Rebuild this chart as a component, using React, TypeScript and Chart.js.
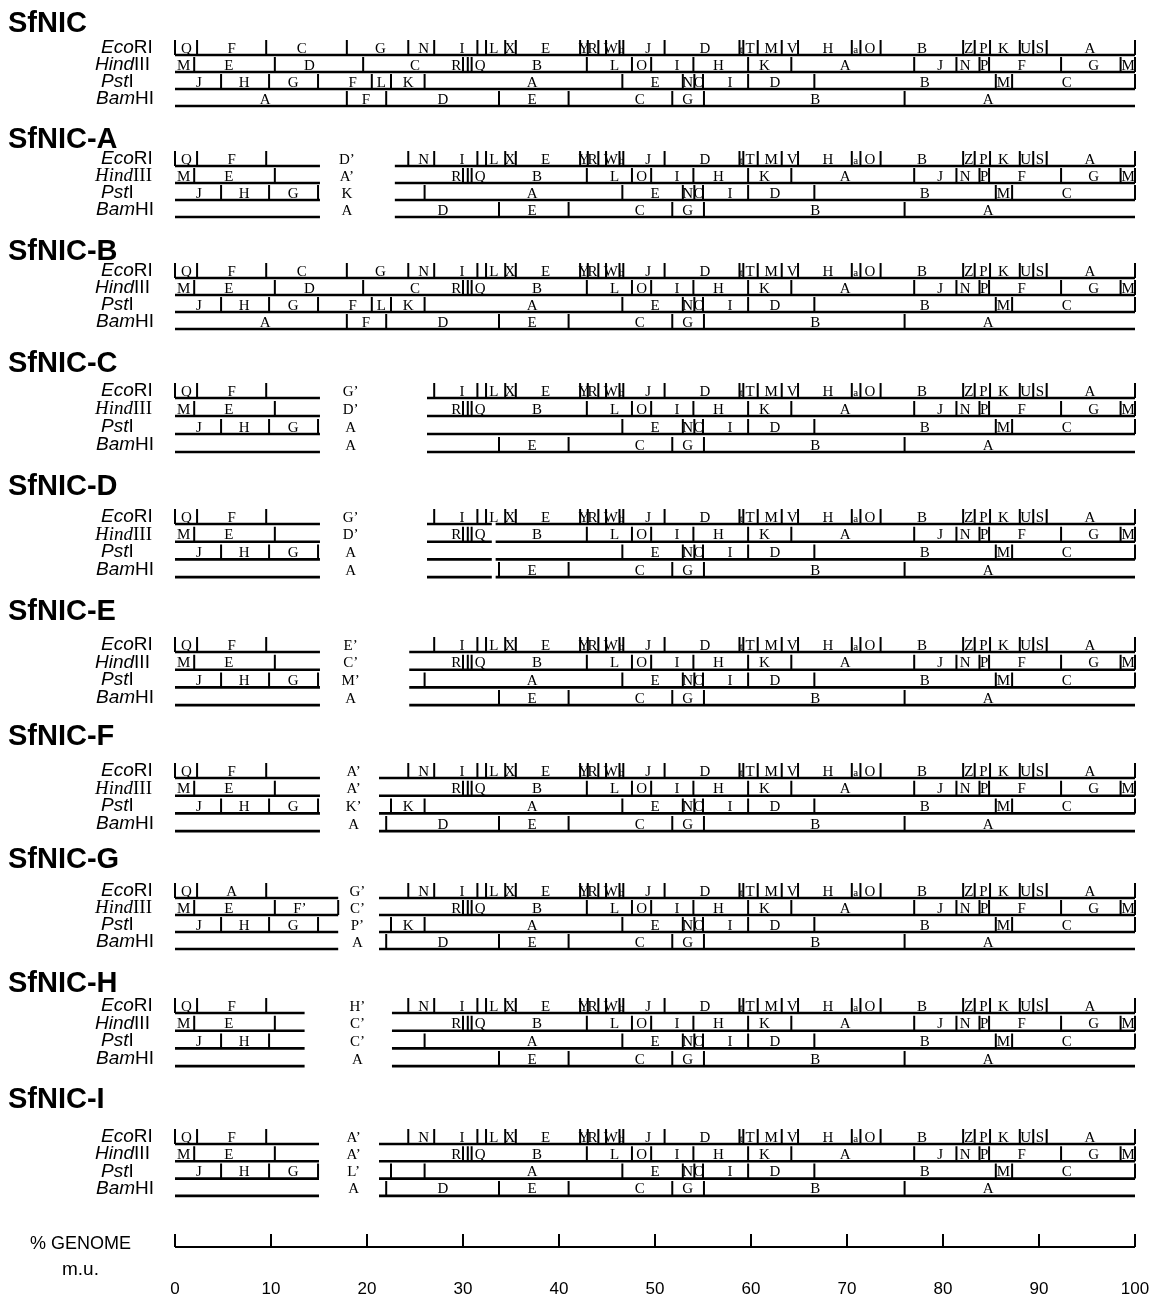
import React, { useEffect, useRef } from 'react';
import { Chart, registerables } from 'chart.js';

Chart.register(...registerables);

const W = 1161;
const H = 1296;

// ---- panel names ----
const panelNames = ['SfNIC', 'SfNIC-A', 'SfNIC-B', 'SfNIC-C', 'SfNIC-D', 'SfNIC-E', 'SfNIC-F', 'SfNIC-G', 'SfNIC-H', 'SfNIC-I'];
const enzymeItalic = ['Eco', 'Hind', 'Pst', 'Bam'];
const enzymeRoman = ['RI', 'III', 'I', 'HI'];

// ---- wild-type SfNIC maps (map units, % genome) ----
const ecoCuts = [0, 2.3, 9.5, 17.9, 24.3, 27.0, 31.5, 32.4, 34.4, 35.5, 42.2, 43.0, 44.1, 44.9, 46.3, 46.7, 51.0, 58.8, 59.2, 60.7, 63.2, 64.9, 70.5, 71.4, 73.5, 82.1, 83.3, 84.9, 88.0, 89.4, 90.8, 100];
const ecoNames = ['Q', 'F', 'C', 'G', 'N', 'I', 'L', 'X', 'E', 'Y', 'R', 'W', 'b', 'J', 'D', 't', 'T', 'M', 'V', 'H', 'a', 'O', 'B', 'Z', 'P', 'K', 'U', 'S', 'A'];
const ecoPos = [1.2, 5.9, 13.2, 21.4, 25.9, 29.9, 33.2, 34.9, 38.6, 42.6, 43.5, 45.4, 46.5, 49.3, 55.2, 59.0, 59.9, 62.1, 64.3, 68.0, 70.9, 72.4, 77.8, 82.7, 84.2, 86.3, 88.6, 90.1, 95.3];

const hindCuts = [2.0, 10.4, 19.6, 30.0, 30.5, 30.9, 42.9, 47.6, 49.6, 54.0, 59.7, 64.2, 77.0, 81.4, 83.8, 84.8, 92.3, 98.5, 100];
const hindNames = ['M', 'E', 'D', 'C', 'R', 'Q', 'B', 'L', 'O', 'I', 'H', 'K', 'A', 'J', 'N', 'P', 'F', 'G', 'M'];
const hindPos = [0.9, 5.6, 14.0, 25.0, 29.3, 31.8, 37.7, 45.8, 48.6, 52.3, 56.6, 61.4, 69.8, 79.7, 82.3, 84.3, 88.2, 95.7, 99.3];

const pstCuts = [4.8, 9.8, 14.9, 20.5, 22.5, 26.0, 46.6, 52.9, 54.1, 55.0, 59.7, 66.6, 85.5, 87.2, 100];
const pstNames = ['J', 'H', 'G', 'F', 'L', 'K', 'A', 'E', 'N', 'O', 'I', 'D', 'B', 'M', 'C'];
const pstPos = [2.5, 7.2, 12.3, 18.5, 21.5, 24.3, 37.2, 50.0, 53.4, 54.6, 57.8, 62.5, 78.1, 86.3, 92.9];

const bamCuts = [17.9, 22.0, 33.75, 41.0, 51.8, 55.1, 76.0];
const bamNames = ['A', 'F', 'D', 'E', 'C', 'G', 'B', 'A'];
const bamPos = [9.4, 19.9, 27.9, 37.2, 48.4, 53.4, 66.7, 84.7];

// ---- deletion mutants: kept left part ends / right part starts (m.u.) ----
const leftEnd = [100, 15.1, 100, 15.1, 15.1, 15.1, 15.1, 17.0, 13.5, 15.0];
const rightStart = [100, 22.9, 100, 26.25, 26.25, 24.4, 21.25, 21.25, 22.6, 21.25];
const midNames = [
  [], ['D’', 'A’', 'K', 'A'], [], ['G’', 'D’', 'A', 'A'], ['G’', 'D’', 'A', 'A'],
  ['E’', 'C’', 'M’', 'A'], ['A’', 'A’', 'K’', 'A'], ['G’', 'C’', 'P’', 'A'], ['H’', 'C’', 'C’', 'A'], ['A’', 'A’', 'L’', 'A'],
];
const midPos = [0, 17.9, 0, 18.3, 18.3, 18.3, 18.6, 19.0, 19.0, 18.6];
const lineGaps = [[], [], [], [], [[33.0, 33.4]], [], [], [], [], []];
const extraCuts = [{ panel: 7, row: 1, x: 17.0 }];
const extraLabels = [
  { panel: 1, row: 3, text: 'D', x: 27.9 },
  { panel: 7, row: 0, text: 'A', x: 5.9 },
  { panel: 7, row: 1, text: 'F’', x: 13.0 },
];
const hiddenLabels = [
  { panel: 7, row: 0, text: 'F' },
  { panel: 7, row: 1, text: 'D' },
  { panel: 9, row: 2, text: 'K' },
];

// ---- genome scale ----
const genomeTicks = [0, 10, 20, 30, 40, 50, 60, 70, 80, 90, 100];

// ---- layout (pixels) ----
const titleBase = [32, 148, 260, 372, 495, 620, 745, 868, 992, 1108];
const rowBase0 = [55, 166, 278, 398, 524, 652, 778, 898, 1013, 1144];
const rowStep = [17, 17, 17, 18, 17.7, 17.7, 17.7, 17, 17.7, 17.3];
const hindSerif = [false, true, false, true, true, false, true, true, false, false];
const TICK_H = 15;
const AXIS_Y = 1247;

type Pt = { x: number; y: number | null };
type Lbl = { text: string; x: number; y: number };

function build() {
  const rows = [
    { cuts: ecoCuts, names: ecoNames, pos: ecoPos },
    { cuts: hindCuts, names: hindNames, pos: hindPos },
    { cuts: pstCuts, names: pstNames, pos: pstPos },
    { cuts: bamCuts, names: bamNames, pos: bamPos },
  ];
  const baseline: Pt[] = [];
  const ticks: Pt[] = [];
  const labels: Lbl[] = [];
  panelNames.forEach((_, p) => {
    rows.forEach((row, r) => {
      const y = rowBase0[p] + r * rowStep[p];
      const L = leftEnd[p];
      const R = rightStart[p];
      const hasRight = R < 100;
      let segs: number[][] = [[0, L]];
      if (hasRight) segs.push([R, 100]);
      lineGaps[p].forEach(([g0, g1]) => {
        segs = segs.flatMap(([a, b]) => (g0 > a && g1 < b ? [[a, g0], [g1, b]] : [[a, b]]));
      });
      segs.forEach(([a, b]) => {
        baseline.push({ x: a, y }, { x: b, y }, { x: b, y: null });
      });
      const cuts = row.cuts.filter((c) => c <= L + 0.01 || (hasRight && c > R));
      extraCuts.filter((e) => e.panel === p && e.row === r).forEach((e) => cuts.push(e.x));
      cuts.forEach((c) => {
        ticks.push({ x: c, y }, { x: c, y: y - TICK_H }, { x: c, y: null });
      });
      const leftCuts = cuts.filter((c) => c <= L + 0.01);
      const lastLeft = L >= 100 ? 101 : leftCuts.length ? Math.max(...leftCuts) : -1;
      const rightCuts = cuts.filter((c) => hasRight && c > R);
      const firstRight = rightCuts.length ? Math.min(...rightCuts) : 101;
      row.names.forEach((t, i) => {
        const x = row.pos[i];
        const ok = x <= lastLeft || x >= firstRight - 0.8;
        const hidden = hiddenLabels.some((h) => h.panel === p && h.row === r && h.text === t);
        if (ok && !hidden) labels.push({ text: t, x, y });
      });
      extraLabels.filter((e) => e.panel === p && e.row === r).forEach((e) => labels.push({ text: e.text, x: e.x, y }));
      if (midNames[p].length) labels.push({ text: midNames[p][r], x: midPos[p], y });
    });
  });
  const axisLine: Pt[] = [{ x: 0, y: AXIS_Y }, { x: 100, y: AXIS_Y }];
  const axisTicks: Pt[] = [];
  genomeTicks.forEach((t) => axisTicks.push({ x: t, y: AXIS_Y }, { x: t, y: AXIS_Y - 13 }, { x: t, y: null }));
  return { baseline, ticks, labels, axisLine, axisTicks };
}

export default function App() {
  const ref = useRef<HTMLCanvasElement>(null);
  useEffect(() => {
    const built = build();
    const textPlugin = {
      id: 'mapText',
      afterDatasetsDraw(chart: any) {
        const { ctx } = chart;
        const xs = chart.scales.x;
        const ys = chart.scales.y;
        ctx.save();
        ctx.fillStyle = '#000';
        ctx.textBaseline = 'alphabetic';
        // panel titles
        ctx.textAlign = 'left';
        ctx.font = 'bold 29px "Liberation Sans", Arial, sans-serif';
        panelNames.forEach((n, p) => ctx.fillText(n, 8, titleBase[p]));
        // enzyme row labels
        panelNames.forEach((_, p) => {
          for (let r = 0; r < 4; r++) {
            const yb = ys.getPixelForValue(rowBase0[p] + r * rowStep[p]) - 2;
            const fam = r === 1 && hindSerif[p] ? '"Liberation Serif", "Times New Roman", serif' : '"Liberation Sans", Arial, sans-serif';
            const x0 = [101, 95, 101, 96][r];
            ctx.font = `italic 19px ${fam}`;
            ctx.fillText(enzymeItalic[r], x0, yb);
            const w = ctx.measureText(enzymeItalic[r]).width;
            ctx.font = `19px ${fam}`;
            ctx.fillText(enzymeRoman[r], x0 + w, yb);
          }
        });
        // fragment letters
        ctx.textAlign = 'center';
        built.labels.forEach((l) => {
          const small = l.text === l.text.toLowerCase() && l.text.length === 1;
          ctx.font = `${small ? 11 : 15}px "Liberation Serif", "Times New Roman", serif`;
          ctx.fillText(l.text, xs.getPixelForValue(l.x), ys.getPixelForValue(l.y) - 2.5);
        });
        // genome scale labels
        ctx.font = '17px "Liberation Sans", Arial, sans-serif';
        genomeTicks.forEach((t) => ctx.fillText(String(t), xs.getPixelForValue(t), 1294));
        ctx.textAlign = 'left';
        ctx.font = '18px "Liberation Sans", Arial, sans-serif';
        ctx.fillText('% GENOME', 30, 1249);
        ctx.font = '19px "Liberation Sans", Arial, sans-serif';
        ctx.fillText('m.u.', 62, 1275);
        ctx.restore();
      },
    };
    const common = { pointRadius: 0, borderColor: '#000', backgroundColor: '#000', spanGaps: false, tension: 0, clip: false as any, fill: false, borderCapStyle: 'butt' as any };
    const chart = new Chart(ref.current as HTMLCanvasElement, {
      type: 'line',
      data: {
        datasets: [
          { ...common, data: built.baseline as any, borderWidth: 2.6 },
          { ...common, data: built.ticks as any, borderWidth: 2 },
          { ...common, data: built.axisLine as any, borderWidth: 2 },
          { ...common, data: built.axisTicks as any, borderWidth: 2 },
        ],
      },
      options: {
        animation: false,
        responsive: false,
        devicePixelRatio: 1,
        events: [],
        layout: { padding: { left: 175, right: 26, top: 0, bottom: 0 } },
        plugins: { legend: { display: false }, tooltip: { enabled: false }, title: { display: false } },
        scales: {
          x: { type: 'linear', min: 0, max: 100, display: false },
          y: { type: 'linear', min: 0, max: H, reverse: true, display: false },
        },
      },
      plugins: [textPlugin],
    });
    return () => chart.destroy();
  }, []);
  return (
    <div style={{ position: 'absolute', left: 0, top: 0, width: W, height: H, background: '#fff' }}>
      <canvas ref={ref} width={W} height={H} style={{ display: 'block', width: W, height: H }} />
    </div>
  );
}
